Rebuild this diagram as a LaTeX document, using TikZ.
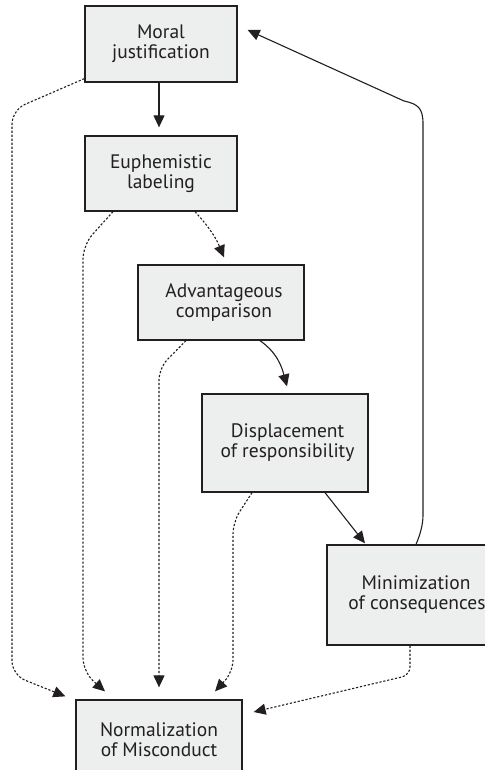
\documentclass[tikz,border=0pt]{standalone}
\usepackage{fontspec}
\setmainfont{PT Sans}
\usetikzlibrary{arrows.meta,calc}
\definecolor{boxfill}{HTML}{EDEEEE}
\definecolor{ink}{HTML}{231F20}
\begin{document}
\begin{tikzpicture}[x=1pt,y=1pt,
  stagebox/.style={draw=ink, line width=1.3pt, fill=boxfill, rectangle, inner sep=0pt,
    align=center, text=ink, font=\fontsize{19.5}{20}\selectfont},
  solidarrow/.style={draw=ink, line width=1.1pt, -{Triangle[length=12pt,width=11pt]}},
  dotarrow/.style={draw=ink, line width=1.1pt, dash pattern=on 2.2pt off 1.8pt, -{Triangle[length=12pt,width=11pt]}}
]
\useasboundingbox (0,0) rectangle (484,-770);
\fill[white] (0,0) rectangle (484,-770);

\node[stagebox, minimum width=152pt, minimum height=76pt] (moral) at (161,-44) {Moral\\justification};
\node[stagebox, minimum width=152pt, minimum height=75pt] (euph) at (161,-173.5) {Euphemistic\\labeling};
\node[stagebox, minimum width=166pt, minimum height=75pt] (adv) at (221,-302.5) {\hspace*{6pt}Advantageous\\\hspace*{6pt}comparison};
\node[stagebox, minimum width=166pt, minimum height=98pt] (disp) at (285,-443) {\hspace*{5pt}Displacement\\\hspace*{5pt}of responsibility};
\node[stagebox, minimum width=172pt, minimum height=100pt] (mini) at (413,-595) {\hspace*{6pt}Minimization\\\hspace*{8pt}of consequences};
\node[stagebox, minimum width=166pt, minimum height=90pt] (norm) at (159,-745) {Normalization\\of Misconduct\\[-10pt]};

% solid chain
\draw[solidarrow] ([xshift=-2pt]moral.south) -- ([xshift=-2pt,yshift=8pt]euph.north);
\draw[dotarrow] ([xshift=34pt]euph.south) to[bend left=10] ([xshift=3pt,yshift=7pt]adv.north);
\draw[solidarrow] ([xshift=39pt]adv.south) to[out=-35,in=105] ([xshift=2pt,yshift=7pt]disp.north);
\draw[solidarrow] ([xshift=40pt]disp.south) -- ([xshift=-48pt,yshift=1pt]mini.north);
\coordinate (loopA) at (423,-515);
\coordinate (loopB) at (423,-124);
\coordinate (loopC) at (404,-101);
\draw[solidarrow] ([xshift=3pt]mini.north) .. controls (420,-535) and (423,-525) .. (loopA) -- (loopB) .. controls (423,-108) and (418,-104) .. (loopC) -- ([xshift=10pt,yshift=14pt]moral.east);

% dotted to normalization
\coordinate (a1) at (12,-110);
\coordinate (a2) at (12,-675);
\draw[dotarrow, rounded corners=14pt] ([yshift=4pt]moral.south west) -- (a1) -- (a2) -- ([xshift=-10pt,yshift=3pt]norm.north west);
\coordinate (b1) at (83,-245);
\coordinate (b2) at (83,-672);
\draw[dotarrow, rounded corners=14pt] ([xshift=-48pt]euph.south) -- (b1) -- (b2) -- ([xshift=-54pt,yshift=8pt]norm.north);
\coordinate (c1) at (159,-368);
\draw[dotarrow, rounded corners=12pt] ([xshift=-35pt]adv.south) -- (c1) -- ([yshift=12pt]norm.north);
\coordinate (d1) at (233,-522);
\coordinate (d2) at (233,-672);
\draw[dotarrow, rounded corners=12pt] ([xshift=-33pt]disp.south) -- (d1) -- (d2) -- ([xshift=56pt,yshift=8pt]norm.north);
\coordinate (e1) at (410,-675);
\draw[dotarrow, rounded corners=8pt] ([xshift=-3pt]mini.south) -- (e1) -- ([xshift=11pt,yshift=33pt]norm.east);
\end{tikzpicture}
\end{document}
